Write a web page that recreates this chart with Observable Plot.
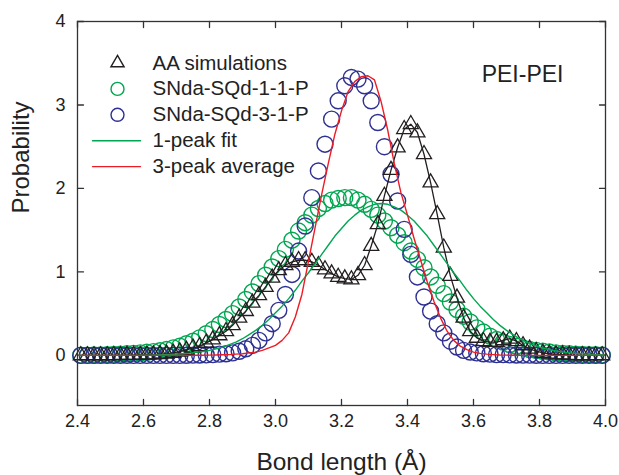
<!DOCTYPE html>
<html><head><meta charset="utf-8">
<script src="https://cdn.jsdelivr.net/npm/d3@7"></script>
<script src="https://cdn.jsdelivr.net/npm/@observablehq/plot@0.6"></script>
<style>body{margin:0;background:#fff;} #chart svg{display:block}</style>
</head><body><div id="chart"></div>
<script>
// ---- data ----
const xTicks = [2.4, 2.6, 2.8, 3.0, 3.2, 3.4, 3.6, 3.8, 4.0];
const yTicks = [0, 1, 2, 3, 4];
const xDomain = [2.4, 4.0];
const yDomain = [-0.6, 4];
// sample positions (markers on 2.41..3.99, curves on 2.40..4.00, step 0.02)
const xMarkers = d3.range(80).map(i => Math.round((2.41 + 0.02 * i) * 100) / 100);
const xCurve = d3.range(81).map(i => Math.round((2.40 + 0.02 * i) * 100) / 100);

const aaSim = [
  0,0,0,0,0,0.002,0.003,0.004,0.005,0.006, 0.008,0.01,0.015,0.02,0.03,0.045,0.065,0.09,0.11,0.15,
  0.19,0.24,0.29,0.36,0.45,0.53,0.63,0.72,0.82,0.93,
  1.02,1.08,1.12,1.14,1.14,1.12,1.08,1.03,0.98,0.94,
  0.92,0.91,0.96,1.08,1.31,1.57,1.91,2.22,2.49,2.71,
  2.77,2.67,2.41,2.07,1.69,1.29,0.95,0.69,0.45,0.29,
  0.21,0.17,0.16,0.16,0.18,0.20,0.17,0.12,0.08,0.05,
  0.03,0.02,0.01,0.01,0.005,0,0,0,0,0
];
const sqd11 = [
  0.003,0.004,0.005,0.007,0.009,0.012,0.015,0.02,0.025,0.03, 0.037,0.045,0.055,0.07,0.09,0.11,0.14,0.17,0.21,0.26,
  0.31,0.37,0.43,0.50,0.58,0.67,0.76,0.86,0.96,1.06,
  1.16,1.27,1.38,1.49,1.59,1.68,1.76,1.82,1.86,1.88,
  1.89,1.89,1.86,1.81,1.75,1.68,1.61,1.53,1.44,1.35,
  1.25,1.15,1.05,0.94,0.84,0.74,0.64,0.55,0.47,0.40,
  0.33,0.28,0.23,0.19,0.16,0.13,0.11,0.09,0.07,0.06,
  0.05,0.04,0.03,0.025,0.02,0.015,0.012,0.01,0.008,0.006
];
const sqd31 = [
  0,0,0,0,0,0,0,0,0,0, 0,0,0,0,0,0,0.002,0.003,0.005,0.007,
  0.01,0.015,0.02,0.03,0.05,0.08,0.12,0.18,0.27,0.38,
  0.54,0.73,0.97,1.25,1.55,1.89,2.21,2.53,2.83,3.05,
  3.23,3.33,3.31,3.23,3.05,2.79,2.50,2.17,1.85,1.51,
  1.21,0.94,0.70,0.53,0.38,0.27,0.17,0.10,0.06,0.04,
  0.03,0.02,0.015,0.01,0.01,0.007,0.005,0.004,0.003,0.002,
  0,0,0,0,0,0,0,0,0,0
];
const fit1 = [
  0,0,0,0,0,0,0,0,0,0,
  0.003,0.004,0.006,0.008,0.011,0.015,0.02,0.027,0.036,0.047,
  0.06,0.08,0.10,0.13,0.16,0.20,0.25,0.30,0.36,0.43,
  0.51,0.59,0.68,0.78,0.89,0.99,1.10,1.21,1.32,1.43,
  1.52,1.61,1.68,1.74,1.78,1.81,1.82,1.81,1.78,1.74,
  1.68,1.61,1.52,1.43,1.32,1.21,1.10,0.99,0.89,0.78,
  0.68,0.59,0.51,0.43,0.36,0.30,0.25,0.20,0.16,0.13,
  0.10,0.08,0.06,0.047,0.036,0.027,0.02,0.015,0.011,0.008,
  0.006
];
const avg3 = [
  0,0,0,0,0,0,0,0,0,0,
  0,0,0,0,0,0,0.001,0.001,0.002,0.002,
  0.003,0.005,0.008,0.01,0.015,0.02,0.03,0.04,0.06,0.09,
  0.12,0.18,0.27,0.46,0.73,1.13,1.53,1.93,2.30,2.65,
  2.93,3.16,3.28,3.34,3.35,3.30,3.04,2.70,2.30,1.95,
  1.68,1.40,1.14,0.88,0.65,0.45,0.29,0.18,0.11,0.07,
  0.04,0.025,0.015,0.01,0.005,0.003,0.002,0.001,0,0,
  0,0,0,0,0,0,0,0,0,0,
  0
];
const legendLabels = ["AA simulations", "SNda-SQd-1-1-P", "SNda-SQd-3-1-P", "1-peak fit", "3-peak average"];
const panelLabel = "PEI-PEI";
const xLabel = "Bond length (Å)";
const yLabel = "Probability";

// ---- styles ----
const cBlack = "#231f20", cGreen = "#00a651", cBlue = "#2e3192", cRed = "#ed1c24", cAxis = "#333";

const pts = (xs, ys) => xs.map((x, i) => ({x, y: ys[i]}));
const aaPts = pts(xMarkers, aaSim);
const g11 = pts(xMarkers, sqd11);
const b31 = pts(xMarkers, sqd31);
const fitPts = pts(xCurve, fit1);
const avgPts = pts(xCurve, avg3);

const legendStyle = [
  {kind: "dot", symbol: "triangle", stroke: cBlack, r: 4.9},
  {kind: "dot", symbol: "circle", stroke: cGreen, r: 6.5},
  {kind: "dot", symbol: "circle", stroke: cBlue, r: 6.5},
  {kind: "line", stroke: cGreen},
  {kind: "line", stroke: cRed}
];
const legendMarks = [];
legendLabels.forEach((lab, i) => {
  const dy = 41.5 + 25.9 * i;
  const st = legendStyle[i];
  if (st.kind === "dot") {
    legendMarks.push(Plot.dot([lab], {frameAnchor: "top-left", dx: 40, dy, symbol: st.symbol, r: st.r, stroke: st.stroke, strokeWidth: 1.4, fill: "none"}));
  } else {
    legendMarks.push(Plot.vector([lab], {frameAnchor: "top-left", dx: 15, dy, length: 48, rotate: 90, anchor: "start", shape: "spike", r: 0, stroke: st.stroke, strokeWidth: 1.4}));
  }
  legendMarks.push(Plot.text([lab], {frameAnchor: "top-left", dx: 75, dy, text: d => d, textAnchor: "start", lineAnchor: "middle", fontSize: 20.5, fill: "#222"}));
});

const tickLen = 6;
const chart = Plot.plot({
  width: 619,
  height: 475,
  marginLeft: 77,
  marginRight: 14,
  marginTop: 21,
  marginBottom: 70,
  style: {fontFamily: "'Liberation Sans', Arial, sans-serif", background: "#fff", color: "#222"},
  x: {domain: xDomain},
  y: {domain: yDomain},
  marks: [
    Plot.axisX({ticks: xTicks, tickSize: 0, tickPadding: 9, tickFormat: d3.format(".1f"), fontSize: 18, label: null}),
    Plot.axisY({ticks: yTicks, tickSize: 0, tickPadding: 12, tickFormat: d3.format("d"), fontSize: 18, label: null}),
    Plot.vector(xTicks, {x: d => d, y: yDomain[0], length: tickLen, rotate: 0, anchor: "start", shape: "spike", r: 0, stroke: cAxis, strokeWidth: 1.3}),
    Plot.vector(xTicks, {x: d => d, y: yDomain[1], length: tickLen, rotate: 180, anchor: "start", shape: "spike", r: 0, stroke: cAxis, strokeWidth: 1.3}),
    Plot.vector(yTicks, {x: xDomain[0], y: d => d, length: tickLen, rotate: 90, anchor: "start", shape: "spike", r: 0, stroke: cAxis, strokeWidth: 1.3}),
    Plot.vector(yTicks, {x: xDomain[1], y: d => d, length: tickLen, rotate: -90, anchor: "start", shape: "spike", r: 0, stroke: cAxis, strokeWidth: 1.3}),
    Plot.dot(g11, {x: "x", y: "y", r: 8, stroke: cGreen, strokeWidth: 1.4, fill: "none"}),
    Plot.dot(b31, {x: "x", y: "y", r: 8, stroke: cBlue, strokeWidth: 1.4, fill: "none"}),
    Plot.dot(aaPts, {x: "x", y: "y", symbol: "triangle", r: 5.6, stroke: cBlack, strokeWidth: 1.3, fill: "none"}),
    Plot.line(aaPts, {x: "x", y: "y", stroke: cBlack, strokeWidth: 1.3}),
    Plot.line(fitPts, {x: "x", y: "y", stroke: cGreen, strokeWidth: 1.4}),
    Plot.line(avgPts, {x: "x", y: "y", stroke: cRed, strokeWidth: 1.4}),
    ...legendMarks,
    Plot.text([panelLabel], {frameAnchor: "top-right", dx: -42, dy: 53, text: d => d, textAnchor: "end", lineAnchor: "middle", fontSize: 23, fill: "#222"}),
    Plot.text([xLabel], {frameAnchor: "bottom", dy: 57, text: d => d, lineAnchor: "middle", fontSize: 24.5, fill: "#222"}),
    Plot.text([yLabel], {frameAnchor: "left", dx: -56, rotate: -90, text: d => d, lineAnchor: "middle", fontSize: 24, fill: "#222"}),
    Plot.frame({stroke: cAxis, strokeWidth: 1.3})
  ]
});
document.getElementById("chart").append(chart);
</script>
</body></html>
